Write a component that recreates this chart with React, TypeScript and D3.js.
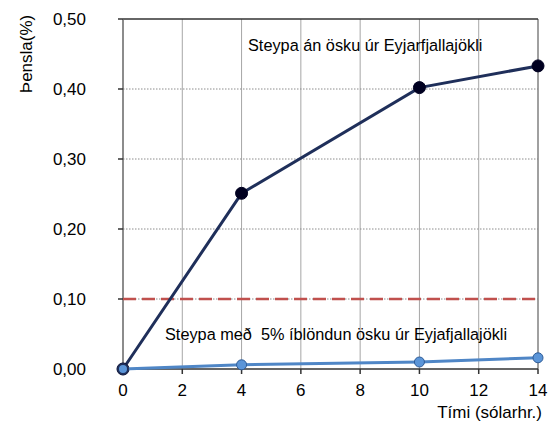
import React from "react";
import * as d3 from "d3";

const days = [0, 4, 10, 14];
const plainConcrete = [0, 0.251, 0.402, 0.433];
const ashConcrete = [0, 0.006, 0.01, 0.016];
const limit = 0.1;
const xTicks = [0, 2, 4, 6, 8, 10, 12, 14];
const yTicks = [0, 0.1, 0.2, 0.3, 0.4, 0.5];

const W = 552;
const H = 421;
const left = 123;
const right = 538;
const top = 19;
const bottom = 369;

const App = () => {
  const x = d3.scaleLinear().domain([0, 14]).range([left, right]);
  const y = d3.scaleLinear().domain([0, 0.5]).range([bottom, top]);
  const line = d3
    .line<number>()
    .x((_, i) => x(days[i]))
    .y((d) => y(d));
  const fmt = (v: number) => v.toFixed(2).replace(".", ",");
  const font = "'Liberation Sans', Arial, sans-serif";

  return (
    <div style={{ position: "absolute", left: 0, top: 0 }}>
      <svg width={W} height={H} style={{ display: "block", fontFamily: font }}>
        <rect width={W} height={H} fill="#fff" />
        {xTicks.slice(1, -1).map((t) => (
          <line key={"vx" + t} x1={x(t)} x2={x(t)} y1={top} y2={bottom} stroke="#a6a6a6" strokeWidth={1} />
        ))}
        {yTicks.slice(1, -1).map((t) => (
          <line key={"hy" + t} x1={left} x2={right} y1={y(t)} y2={y(t)} stroke="#8c8c8c" strokeWidth={1} strokeDasharray="1.5,1.5" />
        ))}
        <line x1={right} x2={right} y1={top} y2={bottom} stroke="#808080" strokeWidth={1.5} />
        <line x1={left} x2={right} y1={top} y2={top} stroke="#333" strokeWidth={1.5} />
        <line x1={left} x2={left} y1={top} y2={bottom} stroke="#666" strokeWidth={1.5} />
        <line x1={left} x2={right} y1={bottom} y2={bottom} stroke="#333" strokeWidth={1.5} />
        {yTicks.map((t) => (
          <g key={"yt" + t}>
            <line x1={left - 5} x2={left} y1={y(t)} y2={y(t)} stroke="#333" strokeWidth={1.5} />
            <text x={86} y={y(t)} dy="0.36em" textAnchor="end" fontSize={17} fill="#000">
              {fmt(t)}
            </text>
          </g>
        ))}
        {xTicks.map((t) => (
          <g key={"xt" + t}>
            <line x1={x(t)} x2={x(t)} y1={bottom} y2={bottom + 5} stroke="#333" strokeWidth={1.5} />
            <text x={x(t)} y={396} textAnchor="middle" fontSize={17} fill="#000">
              {t}
            </text>
          </g>
        ))}
        <text x={542} y={418} textAnchor="end" fontSize={17} fill="#000">
          Tími (sólarhr.)
        </text>
        <text
          transform="translate(32,54) rotate(-90)"
          textAnchor="middle"
          fontSize={17}
          fill="#000"
        >
          Þensla(%)
        </text>
        <line x1={x(0)} x2={x(14)} y1={y(limit)} y2={y(limit)} stroke="#c0504d" strokeWidth={2.5} strokeDasharray="13,6" />
        <path d={line(plainConcrete) || ""} fill="none" stroke="#1f2f5a" strokeWidth={3} />
        {plainConcrete.map((v, i) => (
          <circle key={"p" + i} cx={x(days[i])} cy={y(v)} r={6} fill="#000020" stroke="#000020" strokeWidth={1} />
        ))}
        <path d={line(ashConcrete) || ""} fill="none" stroke="#4f86c6" strokeWidth={3} />
        {ashConcrete.map((v, i) => (
          <circle key={"a" + i} cx={x(days[i])} cy={y(v)} r={5} fill="#5b95d8" stroke={i === 0 ? "#1f2f5a" : "#2f5c97"} strokeWidth={i === 0 ? 2 : 1} />
        ))}
        <text x={248} y={51} fontSize={16.3} fill="#000">
          Steypa án ösku úr Eyjarfjallajökli
        </text>
        <text x={165} y={340} fontSize={16.3} fill="#000">
          Steypa með&#160; 5% íblöndun ösku úr Eyjafjallajökli
        </text>
      </svg>
    </div>
  );
};

export default App;
